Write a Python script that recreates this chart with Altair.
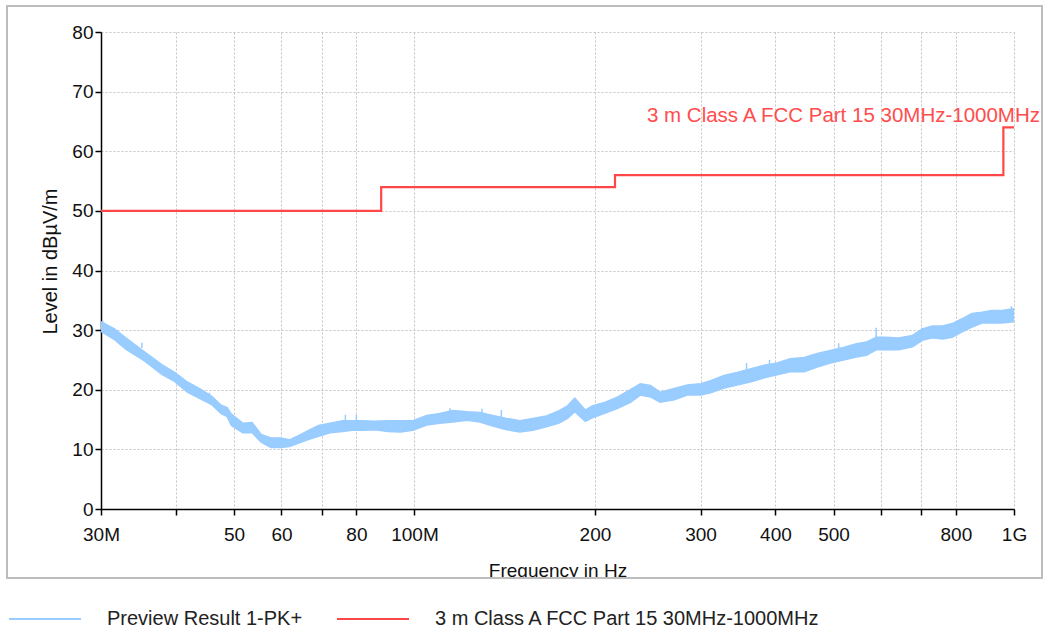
import altair as alt
import pandas as pd

# ---- data ----
# Preview Result 1-PK+ : noise band (lower / upper edge), frequency in MHz
trace_freq = [30.0, 31.6, 33.0, 35.5, 37.9, 39.8, 41.8, 44.1, 45.9, 47.6, 48.7, 49.5,
              51.7, 53.6, 55.5, 57.6, 59.7, 61.9, 64.3, 66.7, 69.2, 72.3, 75.9, 78.6,
              82.2, 86.0, 90.3, 94.8, 99.4, 104.8, 110.2, 115.9, 122.4, 128.6, 135.1,
              142.5, 149.9, 157.5, 166.0, 174.3, 180.0, 185.1, 192.7, 198.0, 208.1,
              218.3, 229.2, 238.1, 247.5, 256.9, 271.2, 285.2, 300.3, 311.9, 328.4,
              345.3, 363.0, 383.2, 402.7, 423.3, 446.9, 469.7, 493.9, 519.5, 546.1,
              567.3, 589.0, 612.0, 642.0, 677.0, 703.0, 731.0, 760.0, 789.0, 819.0,
              851.0, 884.0, 918.0, 954.0, 1000.0]
trace_lo = [29.8, 28.4, 26.8, 24.8, 22.6, 21.4, 19.6, 18.4, 17.5, 16.0, 15.5, 14.0,
            12.8, 12.8, 11.2, 10.3, 10.3, 10.5, 11.1, 11.7, 12.2, 12.8, 13.0, 13.2,
            13.2, 13.3, 13.0, 12.9, 13.2, 14.1, 14.4, 14.6, 14.9, 14.6, 13.9,
            13.3, 12.9, 13.2, 13.8, 14.4, 15.2, 16.3, 14.7, 15.3, 16.1,
            16.9, 17.9, 19.1, 18.8, 17.9, 18.3, 19.1, 19.1, 19.5, 20.3,
            20.8, 21.3, 22.0, 22.5, 23.0, 23.0, 23.8, 24.5, 25.0, 25.5,
            25.8, 26.7, 26.7, 26.7, 27.2, 28.3, 28.7, 28.5, 28.8, 29.7,
            30.5, 31.2, 31.2, 31.2, 31.4]
trace_hi = [31.4, 30.2, 28.7, 26.3, 24.2, 22.9, 21.3, 20.0, 18.9, 17.4, 17.0, 15.9,
            14.4, 14.5, 12.5, 11.9, 11.9, 11.6, 12.4, 13.2, 14.0, 14.4, 14.8, 14.8,
            14.8, 14.7, 14.8, 14.8, 14.8, 15.7, 16.0, 16.5, 16.3, 16.2, 15.7,
            15.2, 14.8, 15.2, 15.6, 16.5, 17.3, 18.6, 16.6, 17.3, 17.9,
            18.8, 20.0, 21.0, 20.7, 19.6, 20.2, 20.8, 21.0, 21.5, 22.4,
            22.9, 23.5, 24.1, 24.5, 25.2, 25.4, 26.1, 26.6, 27.1, 27.7,
            28.0, 28.8, 28.8, 28.7, 29.1, 30.2, 30.7, 30.7, 31.1, 31.9,
            32.8, 33.0, 33.3, 33.3, 33.6]

# isolated peaks sticking out of the band
spike_freq = [30.2, 35.1, 45.5, 76.7, 80.0, 114.6, 129.6, 139.6, 358.0, 391.0, 510.0, 589.0, 702.0, 990.0]
spike_base = [30.5, 27.0, 18.5, 14.5, 14.5, 15.8, 15.8, 15.2, 23.0, 23.5, 26.5, 28.0, 29.0, 32.5]
spike_top = [31.6, 27.9, 19.5, 15.8, 15.8, 16.9, 16.8, 16.6, 24.5, 25.0, 27.8, 30.4, 30.4, 34.0]

# 3 m Class A FCC Part 15 limit (step line)
limit_freq = [30, 88, 88, 216, 216, 960, 960, 1000]
limit_level = [50, 50, 54, 54, 56, 56, 64, 64]

series_names = ["Preview Result 1-PK+", "3 m Class A FCC Part 15 30MHz-1000MHz"]
series_colors = ["#99ccff", "#ff4747"]

x_ticks = [30, 40, 50, 60, 70, 80, 100, 200, 300, 400, 500, 600, 700, 800, 1000]
x_tick_text = ["30M", "", "50", "60", "", "80", "100M", "200", "300", "400", "500", "", "", "800", "1G"]
y_ticks = list(range(0, 85, 5))

FONT = "Liberation Sans"

trace_df = pd.DataFrame({"f": trace_freq, "lo": trace_lo, "hi": trace_hi})
spike_df = pd.DataFrame({"f": spike_freq, "lo": spike_base, "hi": spike_top})
limit_df = pd.DataFrame({"f": limit_freq, "level": limit_level,
                         "series": [series_names[1]] * len(limit_freq),
                         "order": list(range(len(limit_freq)))})
label_df = pd.DataFrame({"f": [limit_freq[-1]], "level": [limit_level[-1]], "text": [series_names[1]]})

label_map = "{" + ",".join(f"'{v}':'{t}'" for v, t in zip(x_ticks, x_tick_text)) + "}"

x_scale = alt.Scale(type="log", domain=[30, 1000], nice=False)
y_scale = alt.Scale(domain=[0, 80], nice=False)

x_enc = alt.X("f:Q", scale=x_scale, title="Frequency in Hz",
              axis=alt.Axis(values=x_ticks, labelExpr=f"{label_map}[datum.value + '']",
                            grid=True, gridDash=[2, 2], gridColor="#c4c4c4", gridWidth=1,
                            domainColor="#000", domainWidth=1.5, tickColor="#000", tickWidth=1.5,
                            tickSize=6, labelFontSize=19, labelFont=FONT, labelColor="#111",
                            labelPadding=10, labelFlush=False, labelOverlap=False,
                            titleFont=FONT, titleFontSize=19, titleFontWeight="normal",
                            titleColor="#111", titlePadding=17))
y_axis = alt.Axis(values=y_ticks, labelExpr="datum.value % 10 == 0 ? datum.label : ''",
                  grid=True, gridDash=[2, 2], gridColor="#c4c4c4", gridWidth=1,
                  domainColor="#000", domainWidth=1.5, tickColor="#000", tickWidth=1.5,
                  tickSize=6, labelFontSize=19, labelFont=FONT, labelColor="#111",
                  labelPadding=2, labelFlush=False, labelOverlap=False,
                  titleFont=FONT, titleFontSize=20, titleFontWeight="normal",
                  titleColor="#111", titlePadding=11, titleY=229)

band = alt.Chart(trace_df).mark_area(color=series_colors[0], opacity=1, line=False).encode(
    x=x_enc,
    y=alt.Y("lo:Q", scale=y_scale, axis=y_axis, title="Level in dBµV/m"),
    y2="hi:Q",
)
band_edge_lo = alt.Chart(trace_df).mark_line(color=series_colors[0], strokeWidth=1.5).encode(
    x="f:Q", y="lo:Q")
band_edge_hi = alt.Chart(trace_df).mark_line(color=series_colors[0], strokeWidth=1.5).encode(
    x="f:Q", y="hi:Q")

spikes = alt.Chart(spike_df).mark_rule(color=series_colors[0], strokeWidth=1.5).encode(
    x="f:Q", y="lo:Q", y2="hi:Q")

limit = alt.Chart(limit_df).mark_line(strokeWidth=2.2).encode(
    x="f:Q",
    y="level:Q",
    order="order:Q",
    color=alt.Color("series:N",
                    scale=alt.Scale(domain=series_names, range=series_colors),
                    legend=alt.Legend(orient="none", legendX=-93, legendY=550,
                                      direction="horizontal", title=None,
                                      symbolType="stroke", symbolSize=5184,
                                      symbolStrokeWidth=2, labelFontSize=20,
                                      labelFont=FONT, labelColor="#222",
                                      labelOffset=25, columnPadding=30,
                                      labelLimit=600)),
)

label = alt.Chart(label_df).mark_text(align="right", baseline="alphabetic", dx=26, dy=-5,
                                      fontSize=20.5, font=FONT, color="#ff4d4d").encode(
    x="f:Q", y="level:Q", text="text:N")

deco_df = pd.DataFrame({"k": [0]})
title_mask = alt.Chart(deco_df).mark_rect(fill="white").encode(
    x=alt.value(-100), x2=alt.value(950), y=alt.value(547), y2=alt.value(560))
frame = alt.Chart(deco_df).mark_rect(fillOpacity=0, stroke="#bdbdbd", strokeWidth=2).encode(
    x=alt.value(-94), x2=alt.value(941), y=alt.value(-26), y2=alt.value(546))

chart = alt.layer(band, band_edge_lo, band_edge_hi, spikes, limit, label, title_mask, frame).properties(
    width=913, height=477,
    autosize=alt.AutoSizeParams(type="none"),
    padding={"left": 101, "top": 32, "right": 30, "bottom": 122},
    background="white",
).configure_view(stroke=None)

chart.save("out.html", embed_options={"renderer": "svg", "actions": False})
